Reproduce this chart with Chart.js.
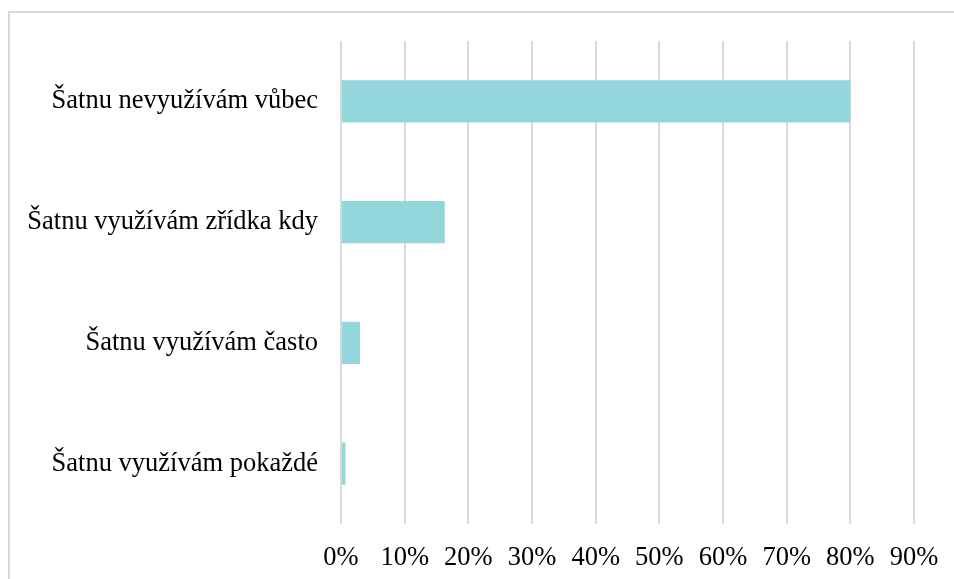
<!DOCTYPE html>
<html>
<head>
<meta charset="utf-8">
<script src="https://cdn.jsdelivr.net/npm/chart.js@4/dist/chart.umd.min.js"></script>
<style>
  html, body { margin: 0; padding: 0; background: #fff; }
  #wrap { width: 954px; height: 579px; position: relative; }
</style>
</head>
<body>
<div id="wrap"><canvas id="chart"></canvas></div>
<script>
// data
const categories = [
    "Šatnu nevyužívám vůbec",
    "Šatnu využívám zřídka kdy",
    "Šatnu využívám často",
    "Šatnu využívám pokaždé",
];
const shares = [80, 16.3, 3.0, 0.7];
const tickMax = 90;
const tickStep = 10;

const FONT = "'Liberation Serif', 'Times New Roman', serif";

// light frame on the top and left edge, like the exported chart box
const framePlugin = {
    id: "frame",
    beforeDraw(chart) {
        const ctx = chart.ctx;
        ctx.save();
        ctx.strokeStyle = "#d9d9d9";
        ctx.lineWidth = 2;
        ctx.beginPath();
        ctx.moveTo(9, chart.height);
        ctx.lineTo(9, 12);
        ctx.lineTo(chart.width, 12);
        ctx.stroke();
        ctx.restore();
    },
};

new Chart(document.getElementById("chart"), {
    type: "bar",
    data: {
        labels: categories,
        datasets: [{
            data: shares,
            backgroundColor: "#93d7dd",
            borderWidth: 0,
            categoryPercentage: 1,
            barPercentage: 0.35,
        }],
    },
    options: {
        indexAxis: "y",
        responsive: true,
        maintainAspectRatio: false,
        animation: false,
        layout: { padding: { top: 41, right: 40, left: 0, bottom: 0 } },
        plugins: { legend: { display: false }, tooltip: { enabled: false } },
        scales: {
            x: {
                min: 0,
                max: tickMax,
                border: { display: false },
                grid: { color: "#d9d9d9", lineWidth: 2, drawTicks: false },
                ticks: {
                    stepSize: tickStep,
                    padding: 18,
                    color: "#000",
                    font: { family: FONT, size: 26.5 },
                    callback: (v) => v + "%",
                },
                afterFit: (s) => {
                    s.height = 55;
                    s.paddingLeft = 0;
                    s.paddingRight = 0;
                },
            },
            y: {
                border: { display: false },
                grid: { display: false, drawTicks: false },
                ticks: {
                    padding: 23,
                    color: "#000",
                    font: { family: FONT, size: 26.5 },
                },
                afterFit: (s) => { s.width = 341; },
            },
        },
    },
    plugins: [framePlugin],
});
</script>
</body>
</html>
